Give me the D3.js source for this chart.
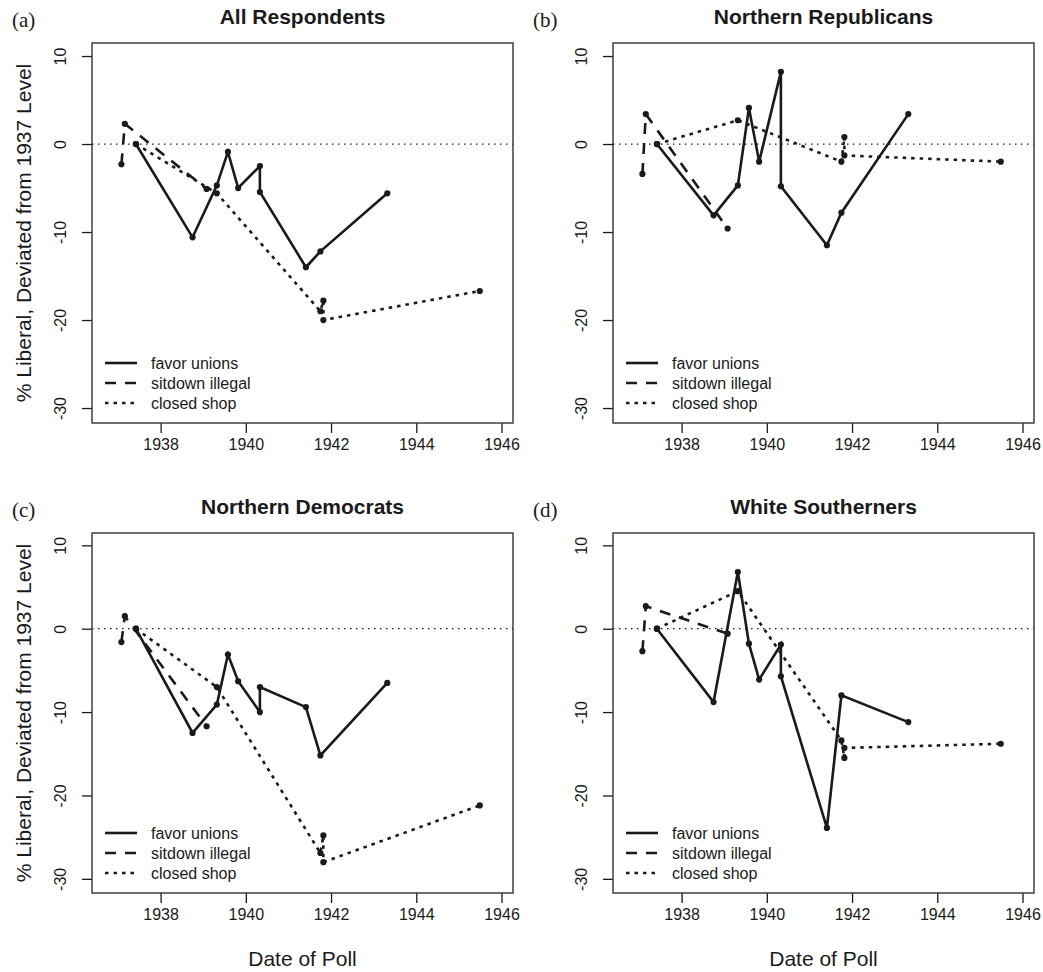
<!DOCTYPE html>
<html>
<head>
<meta charset="utf-8">
<script src="https://cdn.jsdelivr.net/npm/d3@7"></script>
<style>
  body { margin: 0; background: #fff; }
  svg { display: block; font-family: "Liberation Sans", Arial, sans-serif; }
</style>
</head>
<body>
<svg id="chart" width="1043" height="972"></svg>
<script>
// Poll dates (decimal years), shared by every panel
const favorDates = [1937.42, 1938.75, 1939.32, 1939.58, 1939.82, 1940.33, 1940.33, 1941.41, 1941.75, 1943.32];
const sitdownDates = [1937.08, 1937.16, 1939.08];
const closedDates = [1937.42, 1939.32, 1941.75, 1941.82, 1941.82, 1945.49];

const panelLetters = ["(a)", "(b)", "(c)", "(d)"];
const panelTitles = ["All Respondents", "Northern Republicans", "Northern Democrats", "White Southerners"];

// % liberal, deviated from 1937 level
const favorValues = [
  [0, -10.6, -4.7, -0.9, -5.0, -2.5, -5.45, -14.0, -12.2, -5.6],
  [0, -8.1, -4.7, 4.1, -2.0, 8.2, -4.8, -11.5, -7.8, 3.4],
  [0, -12.5, -9.1, -3.1, -6.3, -10.0, -7.0, -9.4, -15.2, -6.5],
  [0, -8.8, 6.8, -1.8, -6.1, -1.9, -5.7, -23.9, -8.0, -11.2]
];
const sitdownValues = [
  [-2.3, 2.3, -5.1],
  [-3.4, 3.4, -9.6],
  [-1.6, 1.5, -11.7],
  [-2.7, 2.7, -0.6]
];
const closedValues = [
  [0, -5.6, -19.0, -17.8, -20.0, -16.7],
  [0, 2.7, -2.0, 0.8, -1.3, -2.0],
  [0, -7.0, -26.9, -24.8, -28.0, -21.2],
  [0, 4.5, -13.4, -15.5, -14.3, -13.8]
];

const seriesNames = ["favor unions", "sitdown illegal", "closed shop"];
const seriesDash = [null, "11,9", "3.5,5"];
const xTicks = [1938, 1940, 1942, 1944, 1946];
const yTicks = [10, 0, -10, -20, -30];

const ink = "#1a1a1a";
const conf = {
  boxW: 421,
  colX: [92, 613],
  rowY: [43, 533],
  rowH: [380, 360],
  xDomain: [1936.39, 1946.27],
  yDomain: [-31.7, 11.48]
};

const svg = d3.select("#chart");

function drawPanel(i) {
  const col = i % 2, row = Math.floor(i / 2);
  const left = conf.colX[col], top = conf.rowY[row], h = conf.rowH[row], w = conf.boxW;

  const x = d3.scaleLinear().domain(conf.xDomain).range([left, left + w]);
  const y = d3.scaleLinear().domain(conf.yDomain).range([top + h, top]);
  const g = svg.append("g");

  // zero reference line
  g.append("line")
    .attr("x1", left).attr("x2", left + w)
    .attr("y1", y(0)).attr("y2", y(0))
    .attr("stroke", ink).attr("stroke-width", 1.3)
    .attr("stroke-dasharray", "1.5,4.5");

  // axes
  const xAxis = d3.axisBottom(x).tickValues(xTicks).tickSize(10).tickPadding(6).tickFormat(d3.format("d"));
  const gx = g.append("g").attr("transform", `translate(0,${top + h})`).call(xAxis);
  gx.select(".domain").remove();
  gx.selectAll("line").attr("stroke", ink).attr("stroke-width", 1.3);
  gx.selectAll("text").attr("font-size", 16).attr("fill", ink).attr("font-family", "Liberation Sans, Arial, sans-serif");

  const yAxis = d3.axisLeft(y).tickValues(yTicks).tickSize(10).tickFormat(d => String(d));
  const gy = g.append("g").attr("transform", `translate(${left},0)`).call(yAxis);
  gy.select(".domain").remove();
  gy.selectAll("line").attr("stroke", ink).attr("stroke-width", 1.3);
  gy.selectAll("text")
    .attr("font-size", 16).attr("fill", ink).attr("font-family", "Liberation Sans, Arial, sans-serif")
    .attr("x", null).attr("dy", null)
    .attr("text-anchor", "middle")
    .attr("transform", "translate(-26,0) rotate(-90)");

  // box
  g.append("rect")
    .attr("x", left).attr("y", top).attr("width", w).attr("height", h)
    .attr("fill", "none").attr("stroke", "#333").attr("stroke-width", 1.4);

  const line = d3.line().x(d => x(d[0])).y(d => y(d[1]));
  const sets = [
    d3.zip(favorDates, favorValues[i]),
    d3.zip(sitdownDates, sitdownValues[i]),
    d3.zip(closedDates, closedValues[i])
  ];

  sets.forEach((pts, k) => {
    g.append("path")
      .datum(pts)
      .attr("d", line)
      .attr("fill", "none")
      .attr("stroke", ink)
      .attr("stroke-width", 2.6)
      .attr("stroke-dasharray", seriesDash[k]);
    g.selectAll(null)
      .data(pts)
      .enter().append("circle")
      .attr("cx", d => x(d[0]))
      .attr("cy", d => y(d[1]))
      .attr("r", 3.1)
      .attr("fill", ink);
  });

  // legend, bottom left
  seriesNames.forEach((name, k) => {
    const ly = top + h - 60 + k * 20;
    g.append("line")
      .attr("x1", left + 13).attr("x2", left + 45)
      .attr("y1", ly).attr("y2", ly)
      .attr("stroke", ink).attr("stroke-width", 2.6)
      .attr("stroke-dasharray", seriesDash[k]);
    g.append("text")
      .attr("x", left + 59).attr("y", ly + 6)
      .attr("font-size", 16).attr("fill", ink)
      .text(name);
  });

  // title and panel letter
  g.append("text")
    .attr("x", left + w / 2).attr("y", top - 19)
    .attr("text-anchor", "middle")
    .attr("font-size", 21).attr("font-weight", "bold").attr("fill", ink)
    .text(panelTitles[i]);
  g.append("text")
    .attr("x", col === 0 ? 12 : 533).attr("y", top - 16)
    .attr("font-family", "Liberation Serif, Times New Roman, serif")
    .attr("font-size", 21).attr("fill", ink)
    .text(panelLetters[i]);

  // y label on the left column only
  if (col === 0) {
    svg.append("text")
      .attr("transform", `translate(31,${top + h / 2}) rotate(-90)`)
      .attr("text-anchor", "middle")
      .attr("font-size", 21).attr("fill", ink)
      .text("% Liberal, Deviated from 1937 Level");
  }
  // x label on the bottom row only
  if (row === 1) {
    svg.append("text")
      .attr("x", left + w / 2).attr("y", 966)
      .attr("text-anchor", "middle")
      .attr("font-size", 21).attr("fill", ink)
      .text("Date of Poll");
  }
}

d3.range(4).forEach(drawPanel);
</script>
</body>
</html>
